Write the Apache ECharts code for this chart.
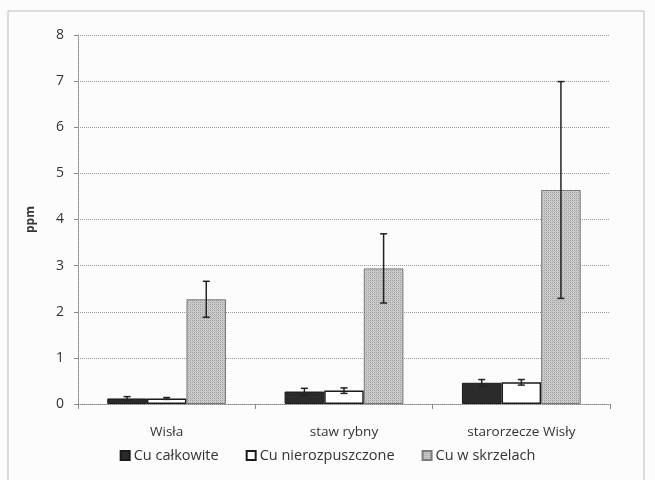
<!DOCTYPE html>
<html>
<head>
<meta charset="utf-8">
<script src="https://cdn.jsdelivr.net/npm/echarts@6/dist/echarts.min.js"></script>
<style>
  html, body { margin: 0; padding: 0; background: #fcfcfc; }
  #chart { width: 655px; height: 480px; }
</style>
</head>
<body>
<div id="chart"></div>
<script>
// Copper content (ppm) at three sampling sites
const categories = ['Wisła', 'staw rybny', 'starorzecze Wisły'];
const seriesNames = ['Cu całkowite', 'Cu nierozpuszczone', 'Cu w skrzelach'];
const cuTotal = [0.12, 0.27, 0.46];
const cuTotalErr = [0.04, 0.07, 0.07];
const cuUndissolved = [0.12, 0.29, 0.47];
const cuUndissolvedErr = [0.02, 0.06, 0.06];
const cuGills = [2.27, 2.94, 4.64];
const cuGillsErr = [0.39, 0.75, 2.35];
const yTicks = [0, 1, 2, 3, 4, 5, 6, 7, 8];

const CATEGORY_GAP = 0.33;

// stippled grey fill for the gill series
function stipple() {
  const c = document.createElement('canvas');
  c.width = 4; c.height = 4;
  const g = c.getContext('2d');
  g.fillStyle = '#cdcdcd';
  g.fillRect(0, 0, 4, 4);
  g.fillStyle = '#a0a0a0';
  g.fillRect(0, 0, 1, 1); g.fillRect(2, 2, 1, 1);
  g.fillRect(2, 0, 1, 1); g.fillRect(0, 2, 1, 1);
  g.fillStyle = '#b8b8b8';
  g.fillRect(1, 1, 1, 1); g.fillRect(3, 3, 1, 1);
  return { image: c, repeat: 'repeat' };
}

function errorSeries(idx, values, errs) {
  const data = values.map((v, i) => [i, v - errs[i], v + errs[i]]);
  return {
    type: 'custom',
    name: seriesNames[idx],
    z: 10,
    silent: true,
    renderItem: function (params, api) {
      const band = api.size([1, 0])[0];
      const barW = band * (1 - CATEGORY_GAP) / 3;
      const lo = api.coord([api.value(0), api.value(1)]);
      const hi = api.coord([api.value(0), api.value(2)]);
      const x = lo[0] + (idx - 1) * barW;
      const cap = 3.5;
      const style = { stroke: '#222', lineWidth: 1.5 };
      return {
        type: 'group',
        children: [
          { type: 'line', shape: { x1: x, y1: hi[1], x2: x, y2: lo[1] }, style },
          { type: 'line', shape: { x1: x - cap, y1: hi[1], x2: x + cap, y2: hi[1] }, style },
          { type: 'line', shape: { x1: x - cap, y1: lo[1], x2: x + cap, y2: lo[1] }, style }
        ]
      };
    },
    encode: { x: 0, y: [1, 2] },
    data: data
  };
}

const chart = echarts.init(document.getElementById('chart'));
const gillFill = stipple();
const textColor = '#333';
const font = 'Open Sans';

chart.setOption({
  backgroundColor: '#fcfcfc',
  animation: false,
  graphic: [{
    type: 'rect',
    shape: { x: 8, y: 11, width: 636, height: 470 },
    style: { fill: 'none', stroke: '#bbb', lineWidth: 1 }
  }],
  grid: { left: 78, right: 45, top: 35, bottom: 76 },
  legend: {
    data: seriesNames,
    bottom: 12,
    left: 'center',
    itemWidth: 9,
    itemHeight: 9,
    itemGap: 27,
    icon: 'rect',
    textStyle: { fontFamily: font, fontSize: 14.5, color: textColor, padding: [0, 0, 0, -1] }
  },
  xAxis: {
    type: 'category',
    data: categories,
    axisLine: { lineStyle: { color: '#888', type: 'dotted' } },
    axisTick: { show: true, length: 5, lineStyle: { color: '#888' } },
    axisLabel: { fontFamily: font, fontSize: 13.5, color: textColor, margin: 21 }
  },
  yAxis: {
    type: 'value',
    min: yTicks[0],
    max: yTicks[yTicks.length - 1],
    interval: 1,
    name: 'ppm',
    nameLocation: 'middle',
    nameGap: 41,
    nameRotate: 90,
    nameTextStyle: { fontFamily: font, fontSize: 12, fontWeight: 'bold', color: textColor },
    axisLine: { show: true, lineStyle: { color: '#888', type: 'dotted' } },
    axisTick: { show: true, length: 4, lineStyle: { color: '#888' } },
    axisLabel: { fontFamily: font, fontSize: 14, color: textColor, margin: 14 },
    splitLine: { lineStyle: { color: '#999', type: 'dotted' } }
  },
  series: [
    {
      type: 'bar', name: seriesNames[0], data: cuTotal,
      barGap: '0%', barCategoryGap: (CATEGORY_GAP * 100) + '%',
      itemStyle: { color: '#2b2b2b', borderColor: '#1a1a1a', borderWidth: 1 }
    },
    {
      type: 'bar', name: seriesNames[1], data: cuUndissolved,
      barGap: '0%', barCategoryGap: (CATEGORY_GAP * 100) + '%',
      itemStyle: { color: '#ffffff', borderColor: '#1a1a1a', borderWidth: 1.5 }
    },
    {
      type: 'bar', name: seriesNames[2], data: cuGills,
      barGap: '0%', barCategoryGap: (CATEGORY_GAP * 100) + '%',
      itemStyle: { color: gillFill, borderColor: '#7a7a7a', borderWidth: 1 }
    },
    errorSeries(0, cuTotal, cuTotalErr),
    errorSeries(1, cuUndissolved, cuUndissolvedErr),
    errorSeries(2, cuGills, cuGillsErr)
  ]
});
</script>
</body>
</html>
